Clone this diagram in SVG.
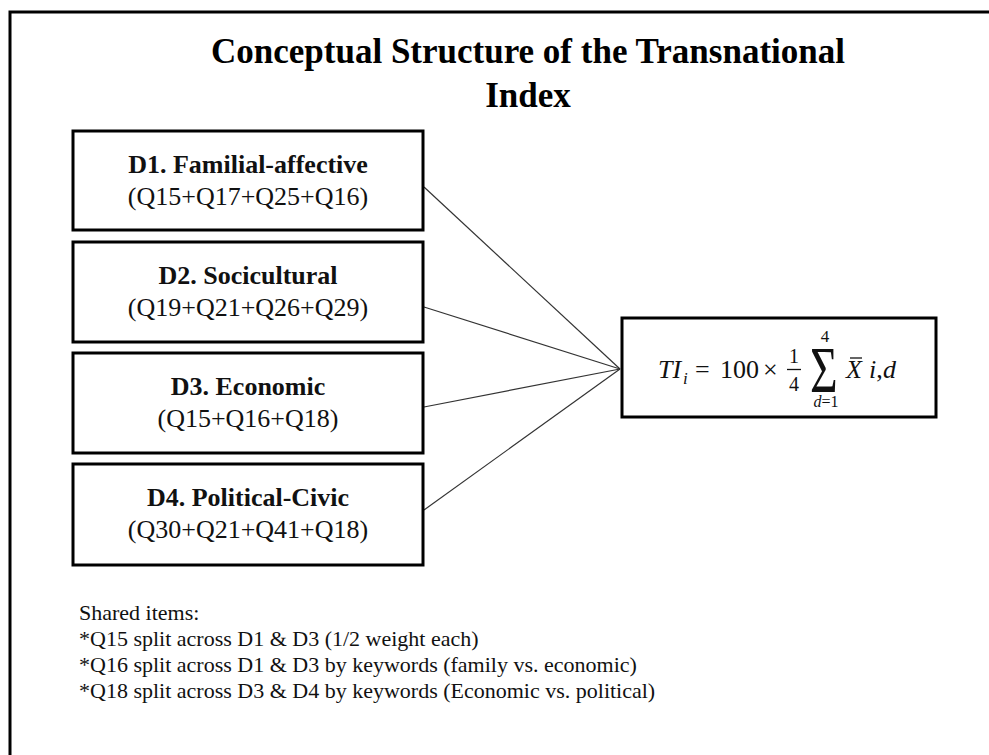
<svg xmlns="http://www.w3.org/2000/svg" width="989" height="755" viewBox="0 0 989 755">
<style>
.box{fill:#fff;stroke:#000;stroke-width:3}
.hd{font-family:"Liberation Serif","Times New Roman",serif;font-weight:bold;font-size:26px;fill:#111;text-anchor:middle}
.sub{font-family:"Liberation Serif","Times New Roman",serif;font-size:26px;fill:#111;text-anchor:middle}
.conn{stroke:#333;stroke-width:1.2;fill:none}
.m{font-family:"Liberation Serif","Times New Roman",serif;fill:#111}
.note{font-family:"Liberation Serif","Times New Roman",serif;font-size:22px;fill:#111}
</style>
<rect width="989" height="755" fill="#fff"/>
<path d="M10 755 V12 H989" fill="none" stroke="#000" stroke-width="3"/>
<g id="title">
<text x="528" y="63" text-anchor="middle" font-family="Liberation Serif, Times New Roman, serif" font-weight="bold" font-size="35" fill="#000">Conceptual Structure of the Transnational</text>
<text x="528" y="107" text-anchor="middle" font-family="Liberation Serif, Times New Roman, serif" font-weight="bold" font-size="35" fill="#000">Index</text>
</g>
<g id="connectors">
<line class="conn" x1="424" y1="187" x2="620" y2="369"/>
<line class="conn" x1="424" y1="307" x2="620" y2="369"/>
<line class="conn" x1="424" y1="407" x2="620" y2="369"/>
<line class="conn" x1="424" y1="510" x2="620" y2="369"/>
</g>
<g id="d1">
<rect class="box" x="73" y="131" width="350" height="99"/>
<text class="hd" x="248" y="173">D1. Familial-affective</text>
<text class="sub" x="248" y="205">(Q15+Q17+Q25+Q16)</text>
</g>
<g id="d2">
<rect class="box" x="73" y="242" width="350" height="100"/>
<text class="hd" x="248" y="284">D2. Socicultural</text>
<text class="sub" x="248" y="316">(Q19+Q21+Q26+Q29)</text>
</g>
<g id="d3">
<rect class="box" x="73" y="353" width="350" height="100"/>
<text class="hd" x="248" y="395">D3. Economic</text>
<text class="sub" x="248" y="427">(Q15+Q16+Q18)</text>
</g>
<g id="d4">
<rect class="box" x="73" y="464" width="350" height="101"/>
<text class="hd" x="248" y="506">D4. Political-Civic</text>
<text class="sub" x="248" y="538">(Q30+Q21+Q41+Q18)</text>
</g>
<g id="formula">
<rect class="box" x="622" y="318" width="314" height="99"/>
<text class="m" x="658" y="378" font-size="26" font-style="italic">TI</text>
<text class="m" x="683" y="384" font-size="17" font-style="italic">i</text>
<text class="m" x="695" y="378" font-size="26">=</text>
<text class="m" x="720" y="378" font-size="26">100</text>
<text class="m" x="763" y="378" font-size="26">×</text>
<text class="m" x="794" y="363" font-size="20" text-anchor="middle">1</text>
<line x1="787" y1="369.5" x2="801" y2="369.5" stroke="#111" stroke-width="1.3"/>
<text class="m" x="794" y="391" font-size="20" text-anchor="middle">4</text>
<text class="m" transform="translate(810,392) scale(0.72,1)" font-size="66">Σ</text>
<text class="m" x="825" y="342" font-size="17" text-anchor="middle">4</text>
<text class="m" x="826" y="407" font-size="16" text-anchor="middle"><tspan font-style="italic">d</tspan>=1</text>
<text class="m" x="846" y="378" font-size="26" font-style="italic">X</text>
<line x1="850" y1="358" x2="862" y2="358" stroke="#111" stroke-width="1.3"/>
<text class="m" x="869" y="378" font-size="26"><tspan font-style="italic">i</tspan>,<tspan x="883" font-style="italic">d</tspan></text>
</g>
<g id="notes">
<text class="note" x="79" y="620">Shared items:</text>
<text class="note" x="79" y="646">*Q15 split across D1 &amp; D3 (1/2 weight each)</text>
<text class="note" x="79" y="672">*Q16 split across D1 &amp; D3 by keywords (family vs. economic)</text>
<text class="note" x="79" y="698">*Q18 split across D3 &amp; D4 by keywords (Economic vs. political)</text>
</g>
</svg>
